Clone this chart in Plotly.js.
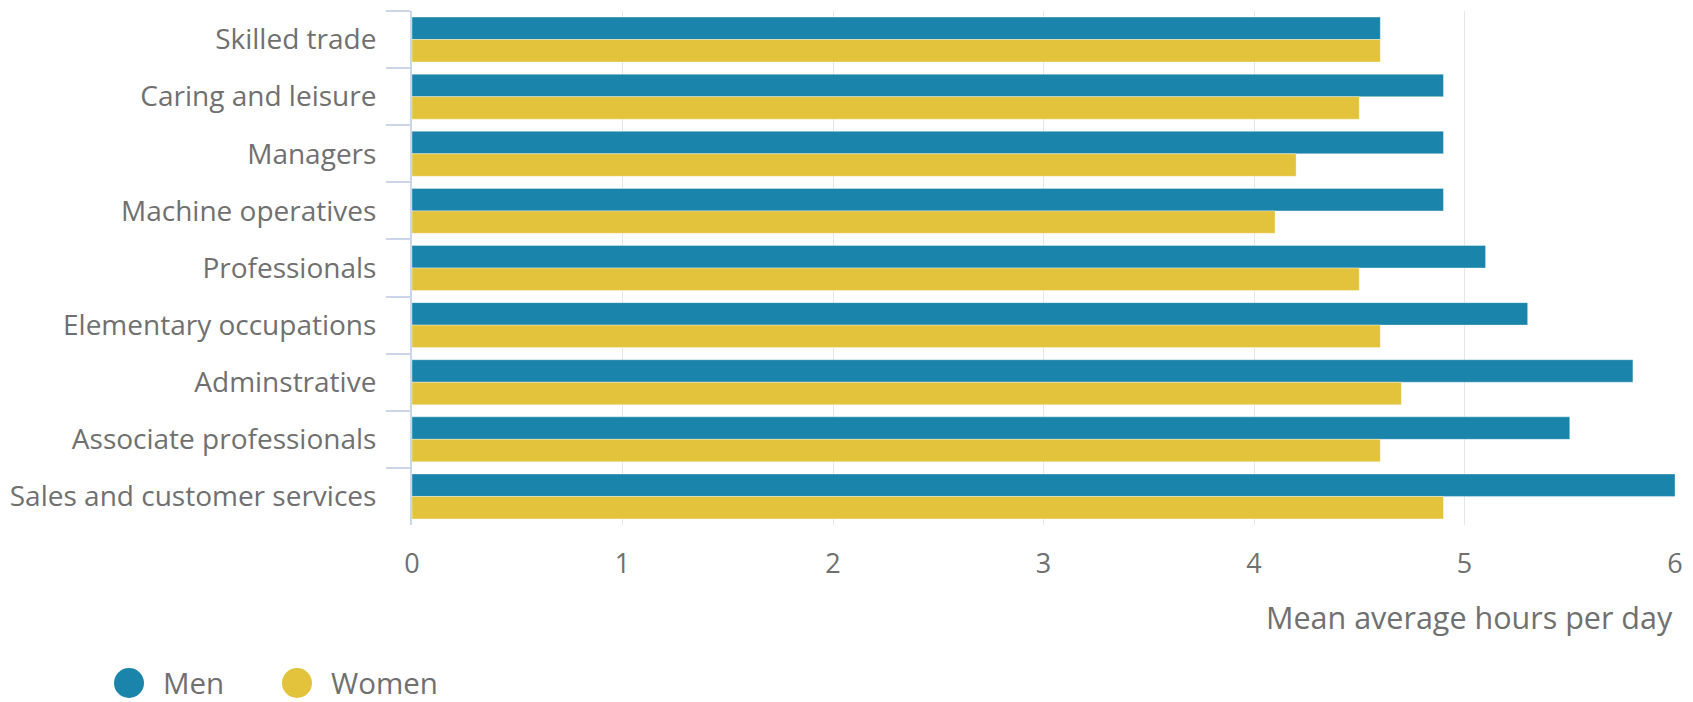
<!DOCTYPE html>
<html>
<head>
<meta charset="utf-8">
<script src="https://cdn.plot.ly/plotly-3.0.1.min.js"></script>
<style>
  html, body { margin: 0; padding: 0; background: #fff; }
  #chart { width: 1693px; height: 702px; }
</style>
</head>
<body>
<div id="chart"></div>
<script>
const categories = [
  "Skilled trade",
  "Caring and leisure",
  "Managers",
  "Machine operatives",
  "Professionals",
  "Elementary occupations",
  "Adminstrative",
  "Associate professionals",
  "Sales and customer services"
];
const menValues   = [4.6, 4.9, 4.9, 4.9, 5.1, 5.3, 5.8, 5.5, 6.0];
const womenValues = [4.6, 4.5, 4.2, 4.1, 4.5, 4.6, 4.7, 4.6, 4.9];
const seriesNames = ["Men", "Women"];
const xTickValues = [0, 1, 2, 3, 4, 5, 6];
const xAxisTitle = "Mean average hours per day";

const menColor = "#1b84ab";
const womenColor = "#e3c33b";
const seriesColors = [menColor, womenColor];
const textColor = "#707070";
const fontFamily = "'Open Sans', sans-serif";

const W = 1693, H = 702;
const M = { l: 412, r: 18, t: 11, b: 177 };
const plotW = W - M.l - M.r, plotH = H - M.t - M.b;
const px2x = p => (p - M.l) / plotW;
const px2y = p => (H - M.b - p) / plotH;

const traces = [
  {
    type: "bar", orientation: "h", name: seriesNames[0],
    x: menValues, y: categories,
    marker: { color: menColor, line: { color: "rgba(255,255,255,0.35)", width: 1 } },
    hoverinfo: "x+y+name"
  },
  {
    type: "bar", orientation: "h", name: seriesNames[1],
    x: womenValues, y: categories,
    marker: { color: womenColor, line: { color: "rgba(255,255,255,0.35)", width: 1 } },
    hoverinfo: "x+y+name"
  }
];

// Legend drawn as circles + text (Plotly caps legend marker size)
const legendItems = [
  { cx: 129, tx: 163 },
  { cx: 297, tx: 331 }
];
const legendCy = 683, legendR = 15;
const shapes = legendItems.map((it, i) => ({
  type: "circle", xref: "paper", yref: "paper",
  x0: px2x(it.cx - legendR), x1: px2x(it.cx + legendR),
  y0: px2y(legendCy + legendR), y1: px2y(legendCy - legendR),
  fillcolor: seriesColors[i], line: { width: 0 }
}));
const legendAnnots = legendItems.map((it, i) => ({
  text: seriesNames[i], xref: "paper", yref: "paper",
  x: px2x(it.tx - 1), y: px2y(legendCy - 1), xanchor: "left", yanchor: "middle",
  borderpad: 0,
  showarrow: false, font: { size: 29.5, color: textColor, family: fontFamily }
}));

const layout = {
  width: W, height: H,
  paper_bgcolor: "#ffffff", plot_bgcolor: "#ffffff",
  font: { family: fontFamily, color: textColor, size: 28 },
  margin: { l: M.l, r: M.r, t: M.t, b: M.b, pad: 0 },
  barmode: "group",
  bargap: 0.213,
  bargroupgap: 0,
  showlegend: false,
  xaxis: {
    range: [0, 6],
    tickvals: xTickValues,
    ticktext: xTickValues.map(String),
    showgrid: true, gridcolor: "#e6e6e6", gridwidth: 1,
    zeroline: false, showline: false,
    ticks: "", ticklabelstandoff: 20,
    tickfont: { size: 27, color: textColor, family: fontFamily },
    fixedrange: true
  },
  yaxis: {
    type: "category",
    categoryorder: "array", categoryarray: categories,
    autorange: "reversed",
    showline: true, linecolor: "#ccd6eb", linewidth: 2,
    ticks: "outside", tickson: "boundaries", ticklen: 24, tickcolor: "#ccd6eb", tickwidth: 2,
    showgrid: false, zeroline: false,
    ticklabelstandoff: 28,
    tickfont: { size: 28, color: textColor, family: fontFamily },
    fixedrange: true
  },
  shapes: shapes,
  annotations: [
    {
      text: xAxisTitle,
      xref: "paper", yref: "paper",
      x: 1, y: px2y(617), xanchor: "right", yanchor: "middle",
      showarrow: false,
      font: { size: 30.5, color: textColor, family: fontFamily }
    }
  ].concat(legendAnnots)
};

Plotly.newPlot("chart", traces, layout, { displayModeBar: false });
</script>
</body>
</html>
